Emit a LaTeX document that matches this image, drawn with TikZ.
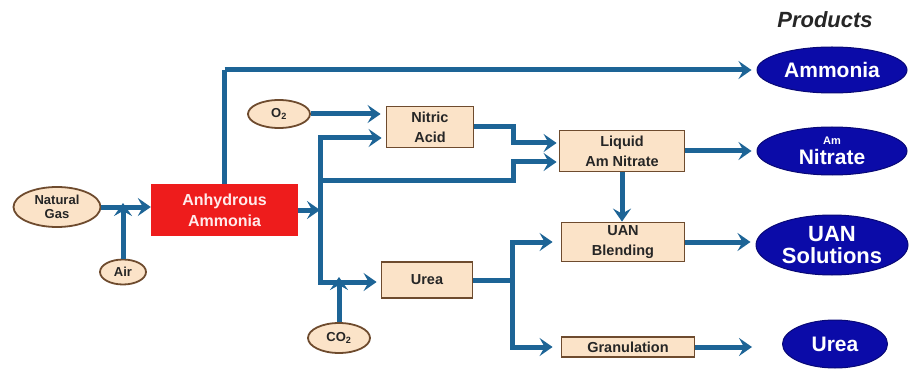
\documentclass[tikz,border=0pt]{standalone}
\usepackage{fontspec}
\setmainfont{Liberation Sans}
\usetikzlibrary{shapes.geometric,arrows.meta}
\definecolor{flowc}{HTML}{1D6496}
\definecolor{boxfill}{HTML}{FBE3C8}
\definecolor{boxline}{HTML}{6E4B2E}
\definecolor{redbox}{HTML}{EE1C1C}
\definecolor{prodblue}{HTML}{0B0BA8}
\begin{document}
\begin{tikzpicture}[x=1pt,y=-1pt,
  flowline/.style={draw=flowc,line width=5pt},
  flow/.style={flowline,-{Stealth[length=13pt,width=18pt,inset=5pt]}},
  inell/.style={ellipse,draw=boxline,fill=boxfill,line width=1.8pt,inner sep=-4pt,
    font=\bfseries\fontsize{13}{14}\selectfont,align=center,text=black!85},
  procbox/.style={rectangle,draw=boxline,fill=boxfill,line width=1.8pt,inner sep=0pt,
    font=\bfseries\fontsize{14.5}{20}\selectfont,align=center,text=black!85},
  prod/.style={ellipse,draw=prodblue!70!black,fill=prodblue,line width=1pt,inner sep=-8pt,
    text=white,align=center,font=\bfseries\fontsize{21}{22}\selectfont}]
\useasboundingbox (0,0) rectangle (909,374);

% input nodes
\node[inell,minimum width=87,minimum height=40] (ng) at (57,207) {Natural\\Gas};
\node[inell,minimum width=46,minimum height=25] (air) at (123,272) {Air};
\node[rectangle,fill=redbox,minimum width=147,minimum height=52,inner sep=0pt,
  text=red!8,align=center,font=\bfseries\fontsize{16}{21}\selectfont] (anh) at (224.5,210) {Anhydrous\\Ammonia};
\node[inell,minimum width=62,minimum height=28] (o2) at (279,114) {O\textsubscript{2}};
\node[inell,minimum width=62,minimum height=30] (co2) at (339,338) {CO\textsubscript{2}};

% process boxes
\node[procbox,minimum width=87,minimum height=41] (nitric) at (430,127) {Nitric\\Acid};
\node[procbox,minimum width=91,minimum height=36] (urea) at (427,280) {Urea};
\node[procbox,minimum width=125,minimum height=41] (lan) at (622,151) {Liquid\\Am Nitrate};
\node[procbox,minimum width=123,minimum height=39] (uan) at (623,242) {UAN\\Blending};
\node[procbox,minimum width=133,minimum height=20] (gran) at (628,347) {Granulation};

% products
\node[font=\bfseries\itshape\fontsize{22}{23}\selectfont,text=black!85] (prodlab) at (825,20) {Products};
\node[prod,minimum width=150,minimum height=46] (amm) at (832,70) {Ammonia};
\node[prod,minimum width=150,minimum height=48] (amn) at (832,151)
  {{\fontsize{11}{12}\selectfont Am}\\[-2pt]Nitrate};
\node[prod,minimum width=152,minimum height=60,font=\bfseries\fontsize{22}{22}\selectfont] (uans) at (832,245) {UAN\\Solutions};
\node[prod,minimum width=105,minimum height=48] (ureap) at (835,344) {Urea};

% junction coordinates
\coordinate (vtop) at (320,138);
\coordinate (vbot) at (320,282);
\coordinate (vmid) at (320,180);
\coordinate (jn) at (513,180);
\coordinate (ju) at (512,280);
\coordinate (jutop) at (512,242);
\coordinate (jubot) at (512,347);

% connectors
\draw[flow] (ng.east) -- (ng.east -| anh.west);
\draw[flow] (air.north) -- ([yshift=4pt]air.north |- ng.east);
\draw[flowline] (anh.north) -- (anh.north |- amm.west);
\draw[flow,shorten >=5pt] (anh.north |- amm.west) -- (amm.west);
\draw[flow] (anh.east) -- (anh.east -| vtop);
\draw[flowline,line cap=rect] (vtop) -- (vbot);
\draw[flow,shorten >=4pt] (vtop) -- (vtop -| nitric.west);
\draw[flow,shorten >=4pt] (vbot) -- (vbot -| urea.west);
\draw[flow,shorten >=2pt] (vmid) -- (jn) -- (jn |- 0,162) -- (lan.west |- 0,162);
\draw[flow,shorten >=5pt] (o2.east) -- (o2.east -| nitric.west);
\draw[flow,shorten >=2pt] (nitric.east) -- (nitric.east -| jn) -- (jn |- 0,143) -- (lan.west |- 0,143);
\draw[flow] (co2.north) -- ([yshift=5pt]co2.north |- vbot);
\draw[flowline] (urea.east) -- (ju);
\draw[flowline,line cap=rect] (jutop) -- (jubot);
\draw[flow,shorten >=8pt] (jutop) -- (uan.west |- jutop);
\draw[flow,shorten >=8pt] (jubot) -- (gran.west |- jubot);
\draw[flow] (lan.south) -- (lan.south |- uan.north);
\draw[flow,shorten >=5pt] (lan.east) -- (lan.east -| amn.west);
\draw[flow,shorten >=5pt] (uan.east) -- (uan.east -| uans.west);
\draw[flow,shorten >=30pt] (gran.east) -- (gran.east -| ureap.west);
\end{tikzpicture}
\end{document}
